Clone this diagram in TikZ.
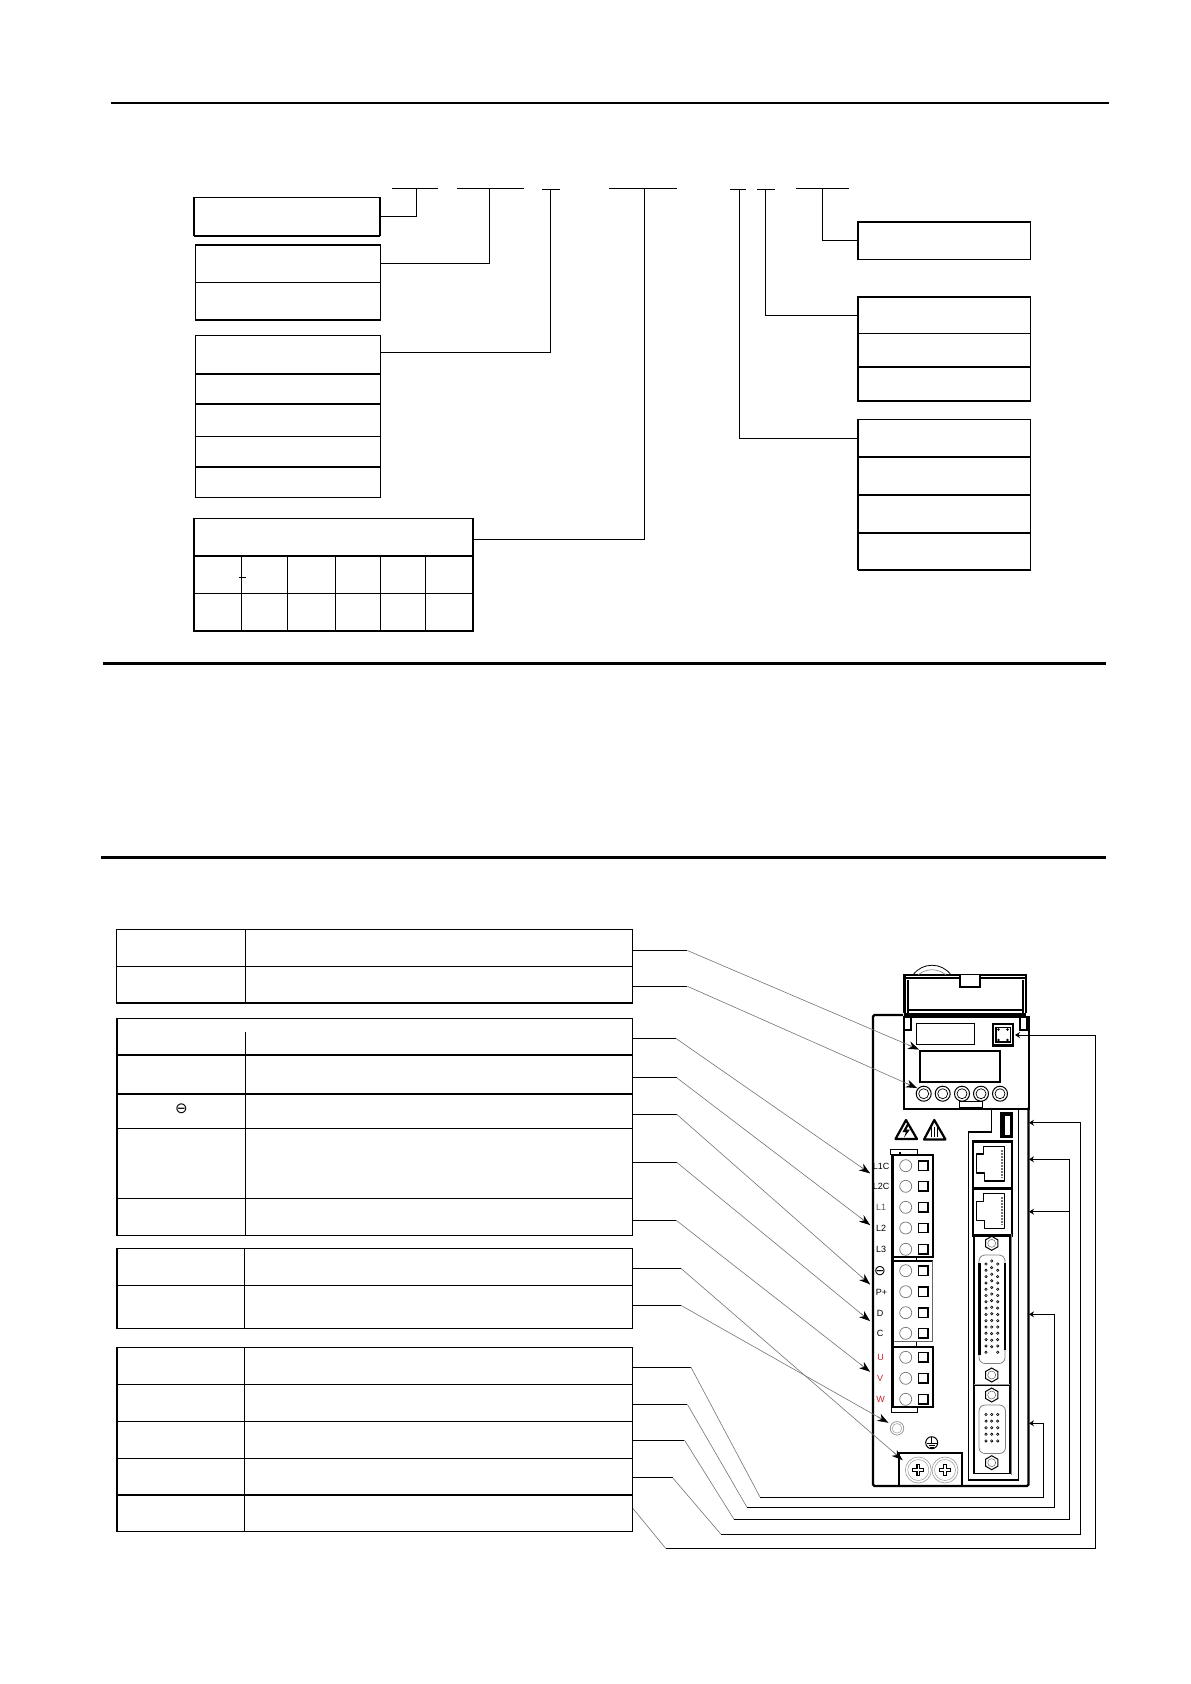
\documentclass[tikz,border=0pt]{standalone}
\usepackage{fontspec}
\setmainfont{Liberation Sans}
\newfontfamily\symfont{DejaVu Sans}
\usetikzlibrary{arrows.meta,shapes.geometric,calc}
\definecolor{termred}{RGB}{205,30,45}
\tikzset{
  rowbox/.style={draw,rectangle,line width=1.2pt,inner sep=0pt,outer sep=0pt,anchor=north west},
  leftbox/.style={rowbox,minimum width=185pt},
  rightbox/.style={rowbox,minimum width=172.5pt},
  tablerow/.style={rowbox,minimum width=516pt},
  heavyrule/.style={line width=2.6pt},
  wire/.style={line width=1pt},
  slant/.style={line width=.6pt,draw=black!55},
  calltip/.style={-{Stealth[length=11pt,width=8pt,black]}},
  backtip/.style={-{Stealth[length=5pt,width=6pt]}},
  devthin/.style={line width=1.2pt},
  devheavy/.style={line width=2.2pt},
  termcirc/.style={draw=black!55,circle,line width=.7pt,minimum size=12pt,inner sep=0pt},
  termsq/.style={draw,rectangle,line width=1.4pt,minimum size=9.5pt,inner sep=0pt},
  pinlabel/.style={font=\fontsize{9}{9}\selectfont,inner sep=0pt},
  hexbolt/.style={draw,regular polygon,regular polygon sides=6,rotate=30,line width=1pt,minimum size=14pt,inner sep=0pt},
  button/.style={draw,circle,line width=1pt,minimum size=15pt,inner sep=0pt},
  pinhole/.style={draw,circle,line width=.6pt,minimum size=2.4pt,inner sep=0pt},
}
\begin{document}
\begin{tikzpicture}[x=1pt,y=-1pt]
  \useasboundingbox (0,0) rectangle (1191,1684);

  % page rules
  \draw[line width=2pt] (111,103) -- (1109,103);
  \draw[line width=3pt] (103,663.5) -- (1106,663.5);
  \draw[line width=3pt] (101,857.5) -- (1106,857.5);

  % model code strokes
  \foreach \n/\a/\b/\y in {a/392/438/188.5,b/457/524/188.5,c/542/560/189.5,d/609/677/188.5,g/730/746/189.5,f/757/775/189.5,e/796/849/188.5}{
    \coordinate (code\n l) at (\a,\y);
    \coordinate (code\n r) at (\b,\y);
    \draw[line width=1.2pt] (code\n l) -- (code\n r);
  }
  \coordinate (codea) at (416,188.5);
  \coordinate (codeb) at (489.5,188.5);
  \coordinate (codec) at (550.5,189.5);
  \coordinate (coded) at (644,188.5);
  \coordinate (codeg) at (739,189.5);
  \coordinate (codef) at (765.5,189.5);
  \coordinate (codee) at (822,188.5);

  % left boxes
  \node[leftbox,minimum width=186pt,minimum height=38pt] (seriesA) at (194,197.5) {};
  \draw[line width=2pt] (seriesA.south west) -- (seriesA.south east);

  \node[leftbox,minimum height=37.5pt] (voltA) at (195.5,245) {};
  \node[leftbox,minimum height=37.5pt] (voltB) at (195.5,282.5) {};
  \draw[line width=2pt] (voltA.north west) -- (voltA.north east);
  \draw[line width=2pt] (voltB.south west) -- (voltB.south east);

  \node[leftbox,minimum height=38pt] (typeA) at (195.5,335.5) {};
  \node[leftbox,minimum height=30pt] (typeB) at (195.5,373.5) {};
  \node[leftbox,minimum height=33pt] (typeC) at (195.5,403.5) {};
  \node[leftbox,minimum height=30pt] (typeD) at (195.5,436.5) {};
  \node[leftbox,minimum height=31pt] (typeE) at (195.5,466.5) {};
  \draw[line width=2pt] (typeB.north west) -- (typeB.north east);
  \draw[line width=2pt] (typeC.north west) -- (typeC.north east);
  \draw[line width=2pt] (typeE.north west) -- (typeE.north east);

  \node[leftbox,minimum width=279pt,minimum height=37.5pt] (powerA) at (194,518.5) {};
  \node[leftbox,minimum width=279pt,minimum height=37.5pt] (powerB) at (194,556) {};
  \node[leftbox,minimum width=279pt,minimum height=37.5pt] (powerC) at (194,593.5) {};
  \draw[line width=2pt] (powerB.north west) -- (powerB.north east);
  \foreach \x in {241,287,335.5,380.5}
    \draw[line width=1pt] (\x,556) -- (\x,631);
  \draw[line width=1.6pt] (425.5,556) -- (425.5,631);
  \draw[line width=1pt] (239,577.5) -- (246,577.5);
  \draw[line width=2pt] (powerC.south west) -- (powerC.south east);

  % right boxes
  \node[rightbox,minimum height=38pt] (brakeA) at (858,221.5) {};
  \draw[line width=2pt] (brakeA.north west) -- (brakeA.north east);

  \node[rightbox,minimum height=36.5pt] (shaftA) at (858,297) {};
  \node[rightbox,minimum height=33.5pt] (shaftB) at (858,333.5) {};
  \node[rightbox,minimum height=34pt] (shaftC) at (858,367) {};
  \draw[line width=2pt] (shaftA.north west) -- (shaftA.north east);
  \draw[line width=2pt] (shaftC.north west) -- (shaftC.north east);
  \draw[line width=2pt] (shaftC.south west) -- (shaftC.south east);

  \node[rightbox,minimum height=37pt] (encA) at (858,419.5) {};
  \node[rightbox,minimum height=38pt] (encB) at (858,456.5) {};
  \node[rightbox,minimum height=38pt] (encC) at (858,494.5) {};
  \node[rightbox,minimum height=37pt] (encD) at (858,532.5) {};
  \draw[line width=2pt] (encB.north west) -- (encB.north east);
  \draw[line width=2pt] (encC.north west) -- (encC.north east);
  \draw[line width=2pt] (encD.north west) -- (encD.north east);
  \draw[line width=2pt] (encD.south west) -- (encD.south east);

  % code connectors
  \draw[wire] (seriesA.east) -| (codea);
  \draw[wire] (voltA.east) -| (codeb);
  \draw[wire] (typeA.east) ++(0,-2) -| (codec);
  \draw[line width=.8pt] (powerA.east) ++(0,2.5) -| (coded);
  \draw[wire] (brakeA.west) -| (codee);
  \draw[wire] (shaftA.west) -| (codef);
  \draw[wire] (encA.west) -| (codeg);

  % lower tables
  \node[tablerow,minimum height=37pt] (dispA) at (116.5,929.5) {};
  \node[tablerow,minimum height=36.5pt] (dispB) at (116.5,966.5) {};
  \draw[line width=1.4pt] (245.5,929.5) -- (245.5,1003);

  \node[tablerow,minimum width=515.5pt,minimum height=36.5pt] (mainA) at (117,1018.5) {};
  \node[tablerow,minimum width=515.5pt,minimum height=39pt] (mainB) at (117,1055) {};
  \node[tablerow,minimum width=515.5pt,minimum height=34.5pt] (mainC) at (117,1094) {};
  \node[tablerow,minimum width=515.5pt,minimum height=70pt] (mainD) at (117,1128.5) {};
  \node[tablerow,minimum width=515.5pt,minimum height=37pt] (mainE) at (117,1198.5) {};
  \draw[line width=1.2pt] (245.5,1032) -- (245.5,1235.5);
  \node[inner sep=0pt,font=\symfont\fontsize{15}{15}\selectfont] (minusA) at (181.5,1109) {⊖};

  \node[tablerow,minimum width=515.5pt,minimum height=37pt] (motorA) at (117,1248.5) {};
  \node[tablerow,minimum width=515.5pt,minimum height=43pt] (motorB) at (117,1285.5) {};
  \draw[line width=1.2pt] (244.5,1248.5) -- (244.5,1328.5);

  \node[tablerow,minimum width=515.5pt,minimum height=37pt] (portA) at (117,1347.5) {};
  \node[tablerow,minimum width=515.5pt,minimum height=37pt] (portB) at (117,1384.5) {};
  \node[tablerow,minimum width=515.5pt,minimum height=37pt] (portC) at (117,1421.5) {};
  \node[tablerow,minimum width=515.5pt,minimum height=36.5pt] (portD) at (117,1458.5) {};
  \node[tablerow,minimum width=515.5pt,minimum height=36.5pt] (portE) at (117,1495) {};
  \draw[line width=1.2pt] (244.5,1347.5) -- (244.5,1531.5);
  \draw[line width=2pt] (portE.north west) -- (portE.north east);

  % cover
  \draw[devheavy] (904.5,1013) -- (904.5,975) -- (1026,975) -- (1026,1013);
  \draw[devthin] (908,980) -- (908,1013);
  \draw[devthin] (1023,980) -- (1023,1013);
  \draw[devthin] (904.5,978) -- (1026,978);
  \draw[line width=.8pt] (913,975) .. controls (922,962) and (942,962) .. (951,975);
  \draw[line width=.6pt,draw=black!50] (918,975) .. controls (926,968) and (938,968) .. (946,975);
  \draw[devthin,fill=white] (960,975) -- (960,987) -- (980,987) -- (980,975);
  \draw[line width=2pt] (960,986.5) -- (980,986.5);
  \draw[devthin] (907,1010) -- (1023,1010);

  % body and panel
  \draw[devheavy,rounded corners=1.5pt] (903,1015) -- (873,1015) -- (873,1486) -- (1028.5,1486) -- (1028.5,1107.5);
  \node[draw,rectangle,devheavy,minimum width=125pt,minimum height=92pt,inner sep=0pt,anchor=north west] (panel) at (902.5,1015.5) {};
  \draw[line width=3pt] (904,1014) -- (1026,1014);
  \draw[devthin,fill=white] (904,1017) rectangle (911,1030);
  \draw[devthin,fill=white] (1020,1017) rectangle (1027,1030);
  \node[draw,rectangle,devthin,minimum width=58.5pt,minimum height=21pt,inner sep=0pt,anchor=north west] (smallscreen) at (915.5,1022.5) {};
  \node[draw,rectangle,devheavy,minimum width=79.5pt,minimum height=31.5pt,inner sep=0pt,anchor=north west] (screen) at (919,1049.5) {};
  \foreach \n/\x in {1/923.7,2/942.7,3/962,4/981,5/1000}{
    \node[button] (btn\n) at (\x,1093.7) {};
    \draw[line width=.7pt] (btn\n) circle (5pt);
  }
  \node[draw,rectangle,devthin,minimum width=23.5pt,minimum height=6pt,inner sep=0pt,anchor=south west] (paneltab) at (958.5,1107.7) {};
  \node[draw,rectangle,devheavy,minimum width=20pt,minimum height=21.5pt,inner sep=0pt] (plug) at (1003.3,1034.8) {};
  \draw[devthin] (996,1027.5) rectangle (1010.5,1042);
  \foreach \x in {998.5,1007.5}
    \foreach \y in {1029.5,1040}
      \fill (\x,\y) circle (1.3pt);

  % usb, warnings
  \node[draw,rectangle,devheavy,fill=black,minimum width=11.5pt,minimum height=24pt,inner sep=0pt] (usb) at (1006.5,1125.3) {};
  \fill[white] (1004,1116) rectangle (1010,1134.5);
  \draw[line width=1pt] (1004.5,1116) -- (1004.5,1134.5);
  \draw[devheavy,line join=round] (906,1120) -- (895.5,1139) -- (917,1139) -- cycle;
  \fill (907,1124) -- (902.5,1132) -- (906,1132) -- (904,1137.5) -- (910,1129.5) -- (906.5,1129.5) -- (909,1124) -- cycle;
  \draw[devheavy,line join=round] (934.3,1120) -- (924,1139.5) -- (945.5,1139.5) -- cycle;
  \foreach \x in {931.5,934.3,937}
    \draw[line width=1pt] (\x,1127) -- (\x,1137);

  % rail and connector column
  \draw[devthin] (991.7,1107.7) -- (991.7,1132) -- (968.5,1132) -- (968.5,1480) -- (1018.3,1480) -- (1018.3,1107.7);
  \node[draw,rectangle,devheavy,minimum width=39pt,minimum height=47pt,inner sep=0pt,anchor=north west] (lanA) at (971.7,1140.3) {};
  \node[draw,rectangle,devheavy,minimum width=39pt,minimum height=47pt,inner sep=0pt,anchor=north west] (lanB) at (971.7,1187.3) {};
  \foreach \d in {0,47.3}{
    \draw[devthin,line join=round] (983.5,1146.5+\d) -- (1004.5,1146.5+\d) -- (1004.5,1181+\d) -- (984.5,1181+\d) -- (984.5,1173+\d) -- (976.7,1173+\d) -- (976.7,1154+\d) -- (983.5,1154+\d) -- cycle;
    \draw[line width=2pt,draw=black!55,dash pattern=on 1.5pt off 1.5pt] (1002,1150+\d) -- (1002,1178+\d);
  }
  \draw[line width=1.2pt] (974,1234) -- (974,1473.3) -- (1010,1473.3) -- (1010,1234);
  \draw[line width=.6pt,draw=black!50] (1011.5,1234) -- (1011.5,1475);
  \draw[line width=1pt] (974,1385) -- (1010,1385);
  \draw[line width=.7pt,draw=black!40] (974,1384) -- (1010,1384);
  \foreach \n/\y in {1/1243.3,2/1375,3/1395,4/1462.7}{
    \node[hexbolt] (bolt\n) at (991.7,\y) {};
    \draw[line width=.5pt,draw=black!60] (bolt\n) circle (4pt);
  }

  % large d-sub
  \draw[line width=.8pt,draw=black!50,rounded corners=6pt] (979,1255) -- (1005,1255) -- (1005,1363.5) -- (979,1363.5) -- cycle;
  \draw[line width=2.2pt] (979.5,1263) -- (979.5,1355);
  \draw[line width=2.2pt] (1005,1263) -- (1005,1350);
  \foreach \i in {0,...,14}{
    \node[pinhole] (pinL\i) at (986,1264+6.3*\i) {};
    \node[pinhole] (pinR\i) at (997.7,1264+6.3*\i) {};
  }
  \foreach \i in {0,...,13}
    \node[pinhole] (pinM\i) at (991.7,1261+6.6*\i) {};

  % small d-sub
  \draw[line width=.8pt,draw=black!50,rounded corners=6pt] (979,1405) -- (1005.5,1405) -- (1005.5,1453.5) -- (979,1453.5) -- cycle;
  \foreach \x/\n in {986/a,991.7/b,997.7/c}
    \foreach \i in {0,...,4}
      \node[pinhole] (sub\n\i) at (\x,1414.5+6.6*\i) {};

  % terminal blocks
  \draw[devthin] (890.7,1155) -- (890.7,1149.5) -- (917.7,1149.5) -- (917.7,1155);
  \draw[devthin] (900,1151.5) -- (900,1155);
  \draw[line width=2pt] (890.7,1155) -- (932.7,1155) -- (932.7,1256.5) -- (894,1256.5);
  \draw[line width=2pt] (894,1260.5) -- (932.7,1260.5);
  \draw[line width=.8pt,draw=black!60] (932.7,1260.5) -- (932.7,1341.5) -- (894,1341.5);
  \draw[line width=2pt] (894,1346.5) -- (932.7,1346.5) -- (932.7,1407.3) -- (892,1407.3);
  \draw[line width=3pt] (892.3,1155) -- (892.3,1408);
  \draw[devthin] (916.7,1256.5) -- (916.7,1260.5);
  \draw[devthin] (916.7,1341.5) -- (916.7,1346.5);
  \draw[devthin] (891.7,1407.3) -- (891.7,1412.3) -- (917.7,1412.3) -- (917.7,1407.3);
  \foreach \n/\y in {1/1165.7,2/1186.3,3/1207.3,4/1228,5/1249.3,6/1270.7,7/1291.7,8/1312.7,9/1333.3,10/1357.3,11/1378.3,12/1399.3}{
    \node[termcirc] (hole\n) at (905.7,\y) {};
    \node[termsq] (term\n) at (923.3,\y) {};
  }
  \node[pinlabel] (lblLA) at (881,1166) {L1C};
  \node[pinlabel] (lblLB) at (881,1186.5) {L2C};
  \node[pinlabel,text=black!65] (lblLC) at (881,1207.5) {L1};
  \node[pinlabel] (lblLD) at (881,1228) {L2};
  \node[pinlabel] (lblLE) at (881,1249.5) {L3};
  \node[pinlabel,font=\symfont\fontsize{14}{14}\selectfont] (lblMinus) at (880,1271) {⊖};
  \node[pinlabel] (lblP) at (881.5,1292) {P+};
  \node[pinlabel] (lblD) at (880,1313) {D};
  \node[pinlabel] (lblC) at (880,1333.5) {C};
  \node[pinlabel,text=termred] (lblU) at (880.5,1357.5) {U};
  \node[pinlabel,text=termred] (lblV) at (880,1378.5) {V};
  \node[pinlabel,text=termred] (lblW) at (880.5,1399.5) {W};

  % led, earth, screws
  \node[draw=black!45,circle,line width=.7pt,minimum size=13.5pt,inner sep=0pt] (led) at (897,1428.3) {};
  \draw[line width=.6pt,draw=black!35] (led) circle (4.8pt);
  \node[draw,circle,line width=1pt,minimum size=12pt,inner sep=0pt] (earth) at (931.7,1442.7) {};
  \draw[line width=.9pt] (931.7,1437) -- (931.7,1443.5);
  \draw[line width=1pt] (927,1443.5) -- (936.5,1443.5);
  \draw[line width=1pt] (928.5,1445.5) -- (935,1445.5);
  \draw[line width=1pt] (930,1447.3) -- (933.5,1447.3);
  \draw[devheavy] (899.3,1486) -- (899.3,1453.3) -- (961.7,1453.3) -- (961.7,1486);
  \foreach \n/\x in {A/918.3,B/945}{
    \node[draw=black!40,circle,line width=.6pt,minimum size=26pt,inner sep=0pt] (screw\n) at (\x,1470) {};
    \draw[line width=.5pt,draw=black!40] (screw\n) circle (10.5pt);
    \draw[line width=4pt] (\x-6,1470) -- (\x+6,1470);
    \draw[line width=4pt] (\x,1464) -- (\x,1476);
    \draw[line width=1.4pt,white] (\x-5,1470) -- (\x+5,1470);
    \draw[line width=1.4pt,white] (\x,1465) -- (\x,1475);
  }

  % left callouts, row to bend to tip
  \foreach \n/\sy/\bx/\tx/\ty in {
      a/950.5/687.4/919/1049.5,
      b/986.3/687.4/917/1088,
      c/1038.5/676/870/1173.3,
      d/1077.7/676.7/870/1225,
      e/1114.3/676.7/870/1284.3,
      f/1162.3/676.7/870/1321,
      g/1220.4/676.3/870/1371.7,
      h/1268.4/681/902.5/1460,
      i/1305.4/681/888.3/1422.7}{
    \coordinate (rowend\n) at (632.7,\sy);
    \coordinate (bend\n) at (\bx,\sy);
    \coordinate (tip\n) at (\tx,\ty);
    \draw[wire] (rowend\n) -- (bend\n);
    \draw[slant] (bend\n) -- (tip\n);
    \draw[line width=.6pt,draw=black!55,calltip] ($(tip\n)!12pt!(bend\n)$) -- (tip\n);
  }

  % bottom callouts round the right side
  \foreach \n/\sy/\bx/\lx/\by/\vx/\ty in {
      p/1367.3/691/760/1497/1043.7/1423.3,
      q/1404.4/687.4/747/1507.3/1054.3/1314.3,
      r/1440/684.4/734/1519.3/1069.7/1211.7,
      s/1477.6/672.5/721/1534.3/1080.7/1122.7}{
    \coordinate (rowend\n) at (632.7,\sy);
    \coordinate (bend\n) at (\bx,\sy);
    \coordinate (low\n) at (\lx,\by);
    \coordinate (corner\n) at (\vx,\by);
    \coordinate (rail\n) at (1029,\ty);
    \draw[wire] (rowend\n) -- (bend\n);
    \draw[slant] (bend\n) -- (low\n);
    \draw[wire,backtip] (low\n) -- (corner\n) |- (rail\n);
  }
  \coordinate (rowendt) at (633,1508.5);
  \coordinate (lowt) at (665.6,1548.3);
  \coordinate (cornert) at (1095.7,1548.3);
  \coordinate (plugend) at (1015,1035);
  \coordinate (lanrail) at (1029,1159.3);
  \draw[slant] (rowendt) -- (lowt);
  \draw[wire,backtip] (lowt) -- (cornert) |- (plugend);
  \draw[wire,backtip] (1069.7,1211.7) |- (lanrail);
\end{tikzpicture}
\end{document}
